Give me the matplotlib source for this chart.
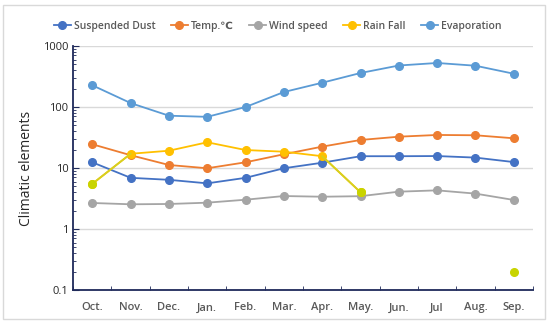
import matplotlib.pyplot as plt
from matplotlib.patches import Rectangle

months = ['Oct.', 'Nov.', 'Dec.', 'Jan.', 'Feb.', 'Mar.', 'Apr.', 'May.', 'Jun.', 'Jul', 'Aug.', 'Sep.']
dust = [12.4, 6.9, 6.4, 5.6, 6.9, 9.9, 12.2, 15.6, 15.6, 15.7, 14.8, 12.5]
temp = [24.5, 16.2, 11.2, 9.9, 12.4, 16.8, 22.4, 28.8, 32.6, 34.8, 34.4, 30.7]
wind = [2.67, 2.54, 2.57, 2.7, 3.02, 3.47, 3.38, 3.45, 4.09, 4.3, 3.8, 2.99]
rain = [5.5, 17.1, 19.2, 26.4, 19.7, 18.5, 15.6, 4.0, None, None, None, 0.2]
evap = [227, 116, 72, 69, 100, 176, 250, 361, 479, 527, 475, 351]
# rainfall points drawn in yellow-green in the original
rain_odd = [0, 7, 11]

plt.rcParams['font.family'] = ['Open Sans', 'DejaVu Sans']
txt = '#595959'

fig = plt.figure(figsize=(5.5, 3.24), dpi=100)
fig.patches.append(Rectangle((0.006, 0.015), 0.985, 0.97, transform=fig.transFigure,
                             fill=False, edgecolor='#d9d9d9', lw=1))
ax = fig.add_axes([0.133, 0.105, 0.836, 0.753])

x = list(range(len(months)))
kw = dict(marker='o', markersize=5.5, lw=1.3)
ax.plot(x, dust, color='#4472C4', label='Suspended Dust', **kw)
ax.plot(x, temp, color='#ED7D31', label='Temp.\u2103', **kw)
ax.plot(x, wind, color='#A5A5A5', label='Wind speed', **kw)
rx = [i for i in x if rain[i] is not None and i != 11]
ax.plot(rx, [rain[i] for i in rx], color='#FFC000', label='Rain Fall', **kw)
ax.plot([0, 1], [rain[0], rain[1]], color='#d6d020', lw=1.3)
ax.plot([6, 7], [rain[6], rain[7]], color='#d6d020', lw=1.3)
ax.plot(rain_odd, [rain[i] for i in rain_odd], 'o', color='#c8d400', markersize=5.5, zorder=5)
ax.plot(x, evap, color='#5B9BD5', label='Evaporation', **kw)

ax.set_yscale('log')
ax.set_ylim(0.1, 1000)
ax.set_xlim(-0.5, 11.5)
ax.set_yticks([0.1, 1, 10, 100, 1000])
ax.set_yticklabels(['0.1', '1', '10', '100', '1000'])
ax.set_xticks(x)
ax.set_xticklabels(months)
ax.set_xticks([i + 0.5 for i in range(-1, 12)], minor=True)
ax.tick_params(axis='x', which='major', length=0, pad=9, labelsize=8, labelcolor=txt)
ax.tick_params(axis='x', which='minor', length=3, direction='in', color='#1f2a5a')
ax.tick_params(axis='y', which='both', direction='in', color='#1f2a5a', labelsize=8, labelcolor='#262626')
ax.tick_params(axis='y', which='major', length=4)
ax.tick_params(axis='y', which='minor', length=2.5)
ax.grid(axis='y', which='major', color='#d9d9d9', lw=1)
ax.set_axisbelow(True)
for s in ['top', 'right']:
    ax.spines[s].set_visible(False)
for s in ['left', 'bottom']:
    ax.spines[s].set_color('#1f2a5a')
    ax.spines[s].set_linewidth(1.3)
for t in ax.get_xticklabels():
    t.set_fontweight('semibold')
ax.set_ylabel('Climatic elements', fontsize=10, color='#262626', labelpad=6)

leg = fig.legend(loc='upper center', bbox_to_anchor=(0.505, 0.965), ncol=5, frameon=False,
                 fontsize=7.5, handlelength=1.6, columnspacing=1.5, handletextpad=0.3,
                 labelcolor=txt)
for t in leg.get_texts():
    t.set_fontweight('semibold')

plt.savefig('out.png', dpi=100)
